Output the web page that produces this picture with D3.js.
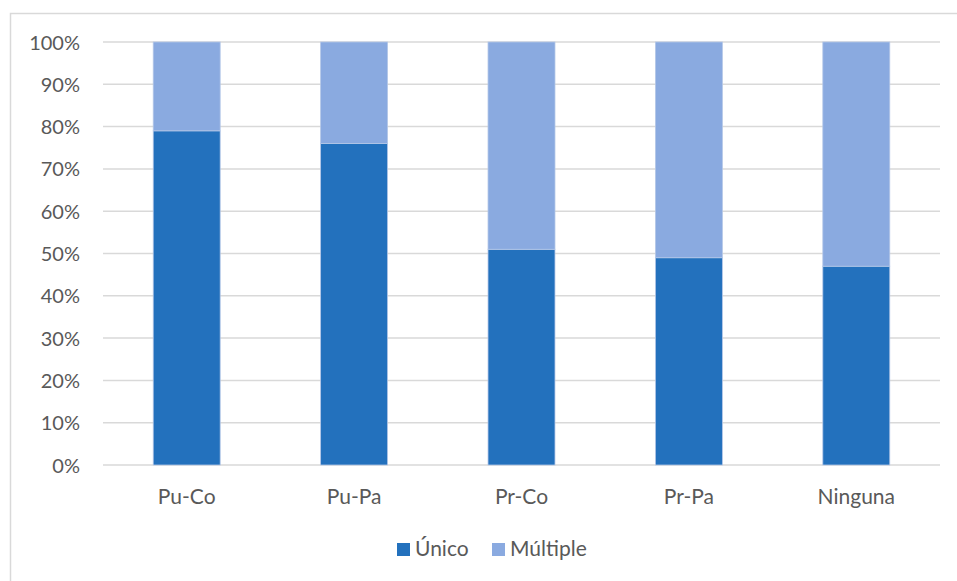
<!DOCTYPE html>
<html>
<head>
<meta charset="utf-8">
<script src="https://cdn.jsdelivr.net/npm/d3@7"></script>
<style>
  html, body { margin: 0; padding: 0; background: #fff; }
  svg text { font-family: Lato, "Open Sans", sans-serif; fill: #595959; }
</style>
</head>
<body>
<svg id="chart" width="957" height="581"></svg>
<script>
// Categories and stacked series (shares of 100%)
const categories = ["Pu-Co", "Pu-Pa", "Pr-Co", "Pr-Pa", "Ninguna"];
const unico = [79, 76, 51, 49, 47];
const multiple = [21, 24, 49, 51, 53];
const seriesNames = ["Único", "Múltiple"];
const seriesColors = ["#2371BD", "#8AAAE0"];
const yTicks = [0, 10, 20, 30, 40, 50, 60, 70, 80, 90, 100];

const svg = d3.select("#chart");
const W = 957, H = 581;
const m = { left: 103, right: 17, top: 42, bottom: 116 };

// Outer chart frame
svg.append("rect")
  .attr("x", 10.5).attr("y", 13.5)
  .attr("width", W + 20).attr("height", H + 20)
  .attr("fill", "#fff").attr("stroke", "#d9d9d9").attr("stroke-width", 1.5);

const x = d3.scaleBand().domain(categories).range([m.left, W - m.right]).paddingInner(0.6).paddingOuter(0.3);
const y = d3.scaleLinear().domain([0, 100]).range([H - m.bottom, m.top]);

// Gridlines
svg.append("g")
  .selectAll("line").data(yTicks).join("line")
  .attr("x1", m.left).attr("x2", W - m.right)
  .attr("y1", d => y(d)).attr("y2", d => y(d))
  .attr("stroke", "#d9d9d9").attr("stroke-width", 1.5);

// Y axis labels
const yAxis = d3.axisLeft(y).tickValues(yTicks).tickFormat(d => d + "%").tickSize(0).tickPadding(0);
const gy = svg.append("g").attr("transform", `translate(${m.left - 23},0)`).call(yAxis);
gy.select(".domain").remove();
gy.selectAll("text").attr("font-size", 20).attr("dy", "0.35em").style("font-family", "Lato, 'Open Sans', sans-serif").attr("fill", "#595959");

// Stacked bars
const rows = categories.map((c, i) => ({ cat: c, u: unico[i], m: multiple[i] }));
const stack = d3.stack().keys(["u", "m"]);
const layers = stack(rows);
svg.append("g").selectAll("g").data(layers).join("g")
  .attr("fill", (d, i) => seriesColors[i])
  .selectAll("rect").data(d => d).join("rect")
  .attr("x", d => x(d.data.cat))
  .attr("width", x.bandwidth())
  .attr("y", d => y(d[1]))
  .attr("height", d => y(d[0]) - y(d[1]))
  .attr("stroke", "#b4c7e7").attr("stroke-width", 0.8);

// X axis labels
const xAxis = d3.axisBottom(x).tickSize(0).tickPadding(0);
const gx = svg.append("g").attr("transform", `translate(0,${y(0) + 32})`).call(xAxis);
gx.select(".domain").remove();
gx.selectAll("text").attr("font-size", 21).attr("dy", "0.35em").style("font-family", "Lato, 'Open Sans', sans-serif").attr("fill", "#595959");

// Legend
const legend = svg.append("g").attr("transform", "translate(397,549)");
const lx = [0, 95];
seriesNames.forEach((name, i) => {
  const g = legend.append("g").attr("transform", `translate(${lx[i]},0)`);
  g.append("rect").attr("x", 0).attr("y", -6).attr("width", 13).attr("height", 13).attr("fill", seriesColors[i]);
  g.append("text").attr("x", 18).attr("y", 0).attr("dy", "0.35em").attr("font-size", 21).text(name);
});
</script>
</body>
</html>
